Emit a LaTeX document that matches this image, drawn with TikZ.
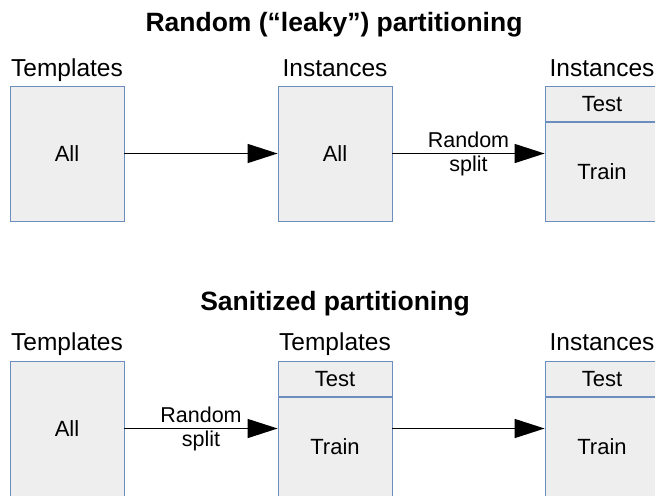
\documentclass[tikz,border=0pt]{standalone}
\usepackage{fontspec}
\setmainfont{Liberation Sans}
\usetikzlibrary{arrows.meta,positioning}
\definecolor{boxfill}{HTML}{EEEEEE}
\definecolor{boxline}{HTML}{6C8EBF}
\begin{document}
\begin{tikzpicture}
        [x=1pt,y=-1pt,
         box/.style={draw=boxline, fill=boxfill, line width=0.8pt, minimum width=114pt, inner sep=0pt, font=\fontsize{22}{24}\selectfont},
         whole/.style={box, minimum height=135pt},
         testcell/.style={box, minimum height=35.5pt},
         traincell/.style={box, minimum height=99.5pt},
         head/.style={anchor=base, font=\fontsize{24.5}{28}\selectfont},
         title/.style={anchor=base, font=\fontsize{26.5}{30}\bfseries\selectfont},
         flow/.style={-{Triangle[length=30pt,width=19pt]}, line width=1.4pt},
         splitlab/.style={align=center, inner sep=0pt, font=\fontsize{21.5}{24}\selectfont}]
      \clip (0,0) rectangle (655,495);
      % leaky
      \node[title] (t1) at (334,31.5) {Random (“leaky”) partitioning};
      \node[whole] (all1) at (67,153.5) {All};
      \node[whole] (inst1) at (335,153.5) {All};
      \node[testcell] (test1) at (602,103.75) {Test};
      \node[traincell, below=0pt of test1] (train1) {Train};
      \node[head] (h1) at ([yshift=9pt]all1.north) {Templates};
      \node[head] (h2) at ([yshift=9pt]inst1.north) {Instances};
      \node[head] (h3) at ([yshift=9pt]test1.north) {Instances};
      % sanitized
      \node[title] (t2) at (335,310) {Sanitized partitioning};
      \node[whole] (all2) at (67,428.5) {All};
      \node[testcell] (test2) at (335,378.75) {Test};
      \node[traincell, below=0pt of test2] (train2) {Train};
      \node[testcell] (test3) at (602,378.75) {Test};
      \node[traincell, below=0pt of test3] (train3) {Train};
      \node[head] (h4) at ([yshift=10pt]all2.north) {Templates};
      \node[head] (h5) at ([yshift=10pt]test2.north) {Templates};
      \node[head] (h6) at ([yshift=10pt]test3.north) {Instances};

      \foreach \from/\to/\lvl/\elab in {all1/inst1/all1/{}, inst1/train1/all1/{Random\\split}, all2/train2/all2/{Random\\split}, train2/train3/all2/{}}
        \draw[flow] (\from.east |- \lvl) -- (\to.west |- \lvl) node [splitlab, midway] {\elab};
    \end{tikzpicture}
\end{document}
